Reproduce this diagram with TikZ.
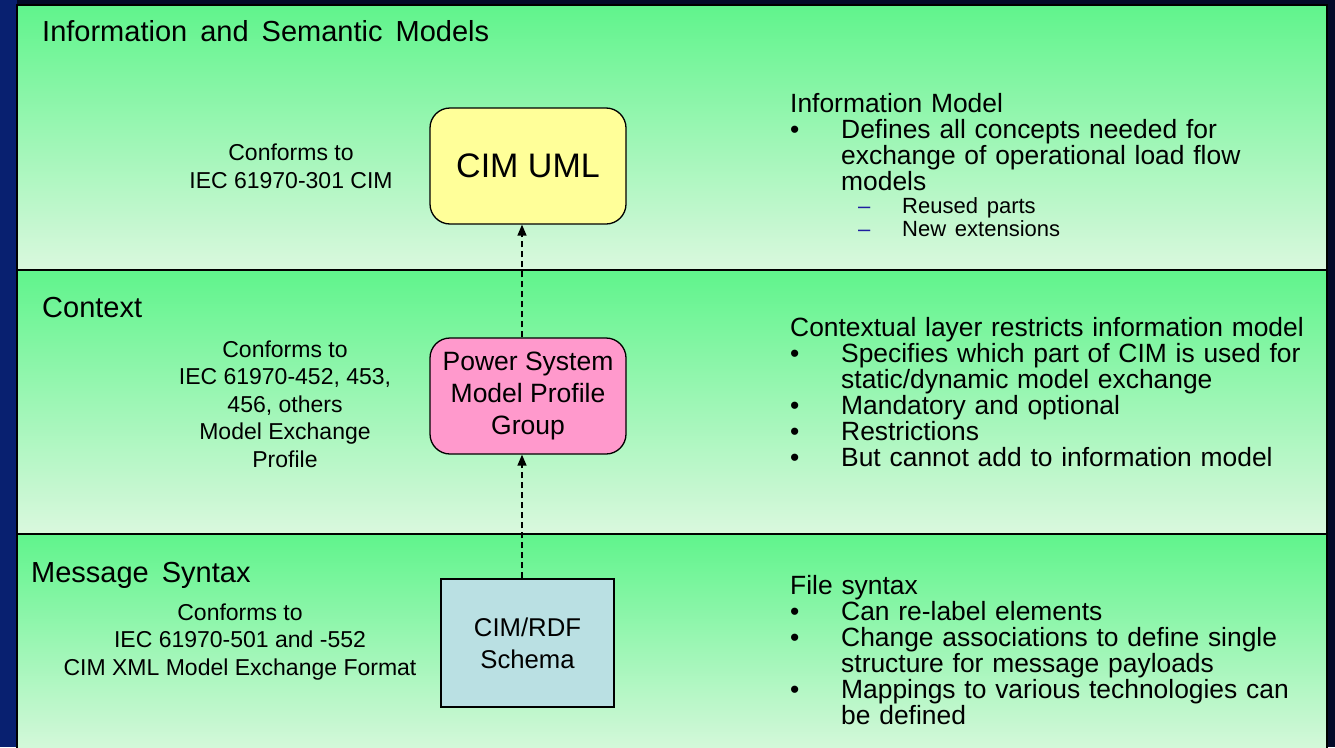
\documentclass[tikz,border=0pt]{standalone}
\usepackage{fontspec}
\setmainfont{Liberation Sans}
\usetikzlibrary{arrows.meta}
\definecolor{navy}{RGB}{3,10,40}
\definecolor{leftblue}{RGB}{8,32,112}
\definecolor{bandtop}{RGB}{96,244,140}
\definecolor{bandbot}{RGB}{218,248,222}
\definecolor{umlyellow}{RGB}{255,255,153}
\definecolor{profpink}{RGB}{255,153,204}
\definecolor{rdfblue}{RGB}{186,224,227}
\definecolor{dashblue}{RGB}{30,30,160}
\newcommand{\wsp}{\hspace{0.45em}}
\newcommand{\bitem}[1]{\par\hangindent=51pt\hangafter=1\noindent\makebox[51pt][l]{\textbullet}#1\par}
\newcommand{\ditem}[1]{\par{\fontsize{22}{23}\selectfont\hangindent=112pt\hangafter=1\noindent
  \hspace*{68pt}\makebox[44pt][l]{\textcolor{dashblue}{--}}#1\par}}

\begin{document}
\begin{tikzpicture}[x=1pt,y=-1pt,
    band/.style={top color=bandtop, bottom color=bandbot, draw=black, line width=1.5pt},
    title/.style={anchor=base west, inner sep=0, font=\fontsize{29}{34}\selectfont},
    conf/.style={anchor=base, inner sep=0, align=center, font=\fontsize{23}{27.5}\selectfont},
    rtext/.style={anchor=base west, inner sep=0, text width=540pt, align=left,
      font=\fontsize{26.4}{26}\selectfont},
    box/.style={draw=black, line width=1.3pt, inner sep=0, align=center,
      minimum width=196, minimum height=116, font=\fontsize{26.5}{32}\selectfont},
    dasharrow/.style={dashed, dash pattern=on 6pt off 4pt, line width=1.4pt,
      -{Triangle[length=11pt,width=9pt]}}]

  \useasboundingbox (0,0) rectangle (1335,747);
  \fill[navy] (0,0) rectangle (1335,747);
  \fill[leftblue] (0,0) rectangle (17,747);

      %% the three layers
      \fill[band] (17,5) rectangle (1327,270);
      \fill[band] (17,270) rectangle (1327,534);
      \fill[band] (17,534) rectangle (1327,760);
      \draw[line width=1.5pt] (17,5) rectangle (1327,760);

      \node (ttlinfo) at (42,41) [title] {Information\wsp and\wsp Semantic\wsp Models};
      \node (ttlctx) at (42,317) [title] {Context};
      \node (ttlmsg) at (31,582) [title] {Message\wsp Syntax};

      %% the three models
      \node (uml) at (528,166) [box, rounded corners=20pt, fill=umlyellow,
        font=\fontsize{34}{38}\selectfont] {CIM UML};
      \node (psm) at (528,396) [box, rounded corners=20pt, fill=profpink]
        {Power System\\Model Profile\\Group};
      \node (rdf) at (527.5,643) [box, fill=rdfblue, minimum width=173, minimum height=128,
        font=\fontsize{25.7}{32}\selectfont] {CIM/RDF\\Schema};

      \draw[dasharrow] ([xshift=-6]psm.north) -- ([xshift=-6]uml.south);
      \draw[dasharrow] ([xshift=-5.5]rdf.north) -- ([xshift=-6]psm.south);

      %% conformance notes
      \node (confuml) at (291,188) [conf] {Conforms to\\IEC 61970-301 CIM};
      \node (confpsm) at (285,467) [conf]
        {Conforms to\\IEC 61970-452, 453,\\456, others\\Model Exchange\\Profile};
      \node (confrdf) at (240,675) [conf]
        {Conforms to\\IEC 61970-501 and -552\\CIM XML Model Exchange Format};

      %% descriptions
      \node (descuml) at (790,112) [rtext] {\noindent Information Model
        \bitem{Defines all concepts needed for\newline exchange of operational load flow\newline models}
        \ditem{Reused parts}
        \ditem{New extensions}};
      \node (descpsm) at (790,336) [rtext] {\noindent Contextual layer restricts information model
        \bitem{Specifies which part of CIM is used for\newline static/dynamic model exchange}
        \bitem{Mandatory and optional}
        \bitem{Restrictions}
        \bitem{But cannot add to information model}};
      \node (descrdf) at (790,594) [rtext] {\noindent File syntax
        \bitem{Can re-label elements}
        \bitem{Change associations to define single\newline structure for message payloads}
        \bitem{Mappings to various technologies can\newline be defined}};

\end{tikzpicture}
\end{document}
